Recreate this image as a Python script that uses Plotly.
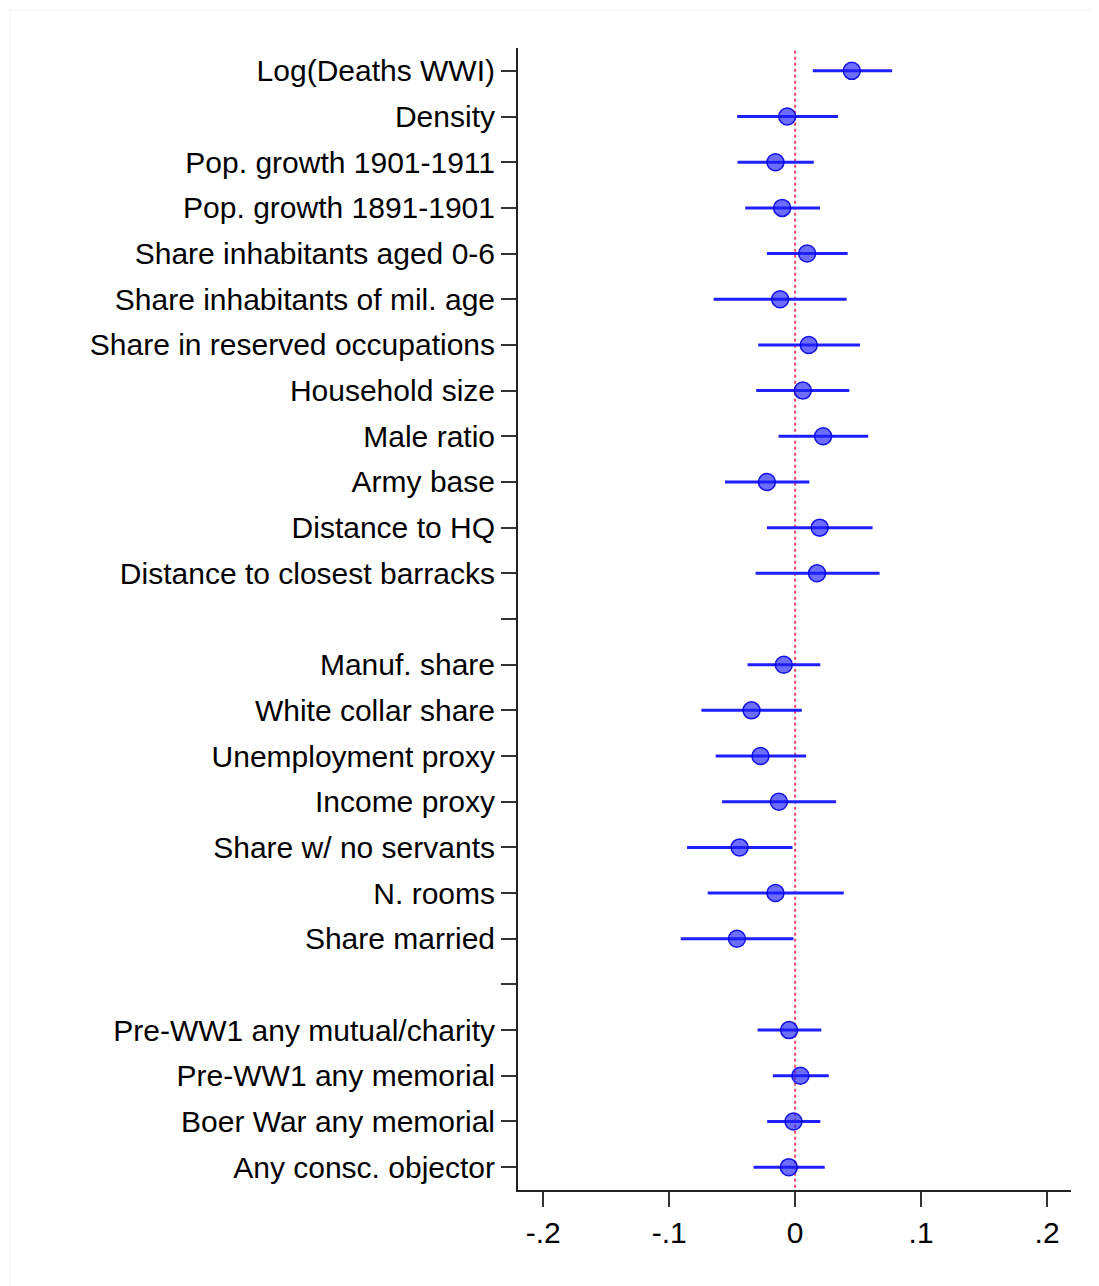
import plotly.graph_objects as go

labels = [
    "Log(Deaths WWI)", "Density", "Pop. growth 1901-1911", "Pop. growth 1891-1901",
    "Share inhabitants aged 0-6", "Share inhabitants of mil. age",
    "Share in reserved occupations", "Household size", "Male ratio", "Army base",
    "Distance to HQ", "Distance to closest barracks", "",
    "Manuf. share", "White collar share", "Unemployment proxy", "Income proxy",
    "Share w/ no servants", "N. rooms", "Share married", "",
    "Pre-WW1 any mutual/charity", "Pre-WW1 any memorial", "Boer War any memorial",
    "Any consc. objector",
]
row_pos = list(range(len(labels)))

coef = [0.045, -0.0063, -0.0156, -0.0103, 0.0095, -0.0119,
        0.0108, 0.0061, 0.0222, -0.0224, 0.0195, 0.0174, None,
        -0.0090, -0.0346, -0.0275, -0.0129, -0.0441, -0.0156, -0.0462, None,
        -0.0048, 0.0042, -0.0013, -0.0050]
ci_low = [0.014, -0.046, -0.0457, -0.0396, -0.0224, -0.0647,
          -0.0293, -0.0309, -0.0132, -0.0557, -0.0224, -0.0314, None,
          -0.0378, -0.0744, -0.0631, -0.0580, -0.0858, -0.0694, -0.0908, None,
          -0.0298, -0.0177, -0.0222, -0.0330]
ci_high = [0.077, 0.034, 0.0148, 0.0198, 0.0417, 0.0409,
           0.0515, 0.0430, 0.0580, 0.0113, 0.0615, 0.0670, None,
           0.0200, 0.0053, 0.0087, 0.0325, -0.0021, 0.0386, -0.0013, None,
           0.0208, 0.0267, 0.0200, 0.0235]

xtick_vals = [-0.2, -0.1, 0, 0.1, 0.2]
xtick_text = ["-.2", "-.1", "0", ".1", ".2"]

FONT = "Arial, Liberation Sans, sans-serif"

# CI segments
seg_x, seg_y = [], []
for y, lo, hi in zip(row_pos, ci_low, ci_high):
    if lo is None:
        continue
    seg_x += [lo, hi, None]
    seg_y += [y, y, None]

pts_x = [c for c in coef if c is not None]
pts_y = [y for y, c in zip(row_pos, coef) if c is not None]

fig = go.Figure()
fig.add_trace(go.Scatter(
    x=seg_x, y=seg_y, mode="lines",
    line=dict(color="#1f1fff", width=3), hoverinfo="skip", showlegend=False,
))
fig.add_trace(go.Scatter(
    x=pts_x, y=pts_y, mode="markers",
    marker=dict(size=17, color="rgba(30,30,255,0.65)",
                line=dict(color="rgba(0,0,230,0.9)", width=1.5)),
    showlegend=False,
))

fig.add_shape(type="line", xref="x", yref="paper", x0=0, x1=0, y0=0.002, y1=0.998,
              line=dict(color="rgba(225,40,80,0.85)", width=2, dash="dot"),
              layer="below")

# faint outer frame (top/left)
fig.add_shape(type="line", xref="paper", yref="paper", x0=-0.9186, x1=1.06, y0=1.0333, y1=1.0333,
              line=dict(color="#f2f2f2", width=1))
fig.add_shape(type="line", xref="paper", yref="paper", x0=-0.9186, x1=-0.9186, y0=1.0333, y1=-0.09,
              line=dict(color="#f2f2f2", width=1))

fig.update_layout(
    width=1099, height=1286,
    margin=dict(l=510, r=36, t=40, b=104),
    plot_bgcolor="white", paper_bgcolor="white",
    font=dict(family=FONT, size=30, color="black"),
    xaxis=dict(
        range=[-0.22, 0.219], tickvals=xtick_vals, ticktext=xtick_text,
        showgrid=False, zeroline=False, showline=True, linecolor="#222", linewidth=2,
        ticks="outside", ticklen=15, tickwidth=2, tickcolor="#333",
        tickfont=dict(family=FONT, size=30, color="black"),
    ),
    yaxis=dict(
        range=[len(labels) - 0.5, -0.5], tickvals=row_pos, ticktext=labels,
        showgrid=False, zeroline=False, showline=True, linecolor="#222", linewidth=2,
        ticks="outside", ticklen=15, tickwidth=2, tickcolor="#333",
        tickfont=dict(family=FONT, size=30, color="black"),
    ),
)

fig.write_html("out.html")
